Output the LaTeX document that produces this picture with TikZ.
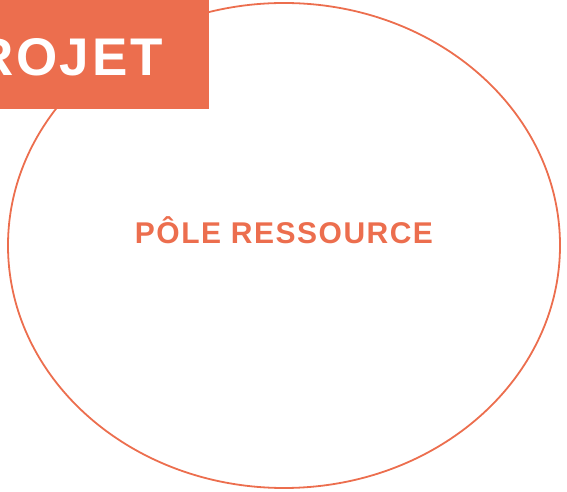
\documentclass[tikz,border=0pt]{standalone}
\usepackage{fontspec}
\setmainfont{Liberation Sans}
\usetikzlibrary{shapes.geometric}
\definecolor{orangepole}{RGB}{236,110,78}
\tikzset{titre/.style={font=\bfseries,inner sep=0pt}}

\begin{document}
\begin{tikzpicture}[x=1pt,y=1pt]
% \draw[help lines] (0,0) grid (567,492);
\useasboundingbox (0,0) rectangle (567,492);
\node (pole) [ellipse,draw=orangepole,line width=1.8pt,minimum width=552,minimum height=485,inner sep=0pt] at (284,246.5) {};
\node (poletxt) [titre,text=orangepole,anchor=base] at (284,248) {\fontsize{30}{33}\selectfont\addfontfeature{LetterSpace=5}PÔLE RESSOURCE};
%
\node (projet) [fill=orangepole,anchor=north west,minimum width=209,minimum height=109,inner sep=0pt] at (0,492) {};
\node (projettxt) [titre,text=white,anchor=base west] at (-25,416.5) {\fontsize{53}{58}\selectfont\addfontfeature{LetterSpace=5}ROJET};
%
\end{tikzpicture}
\end{document}
